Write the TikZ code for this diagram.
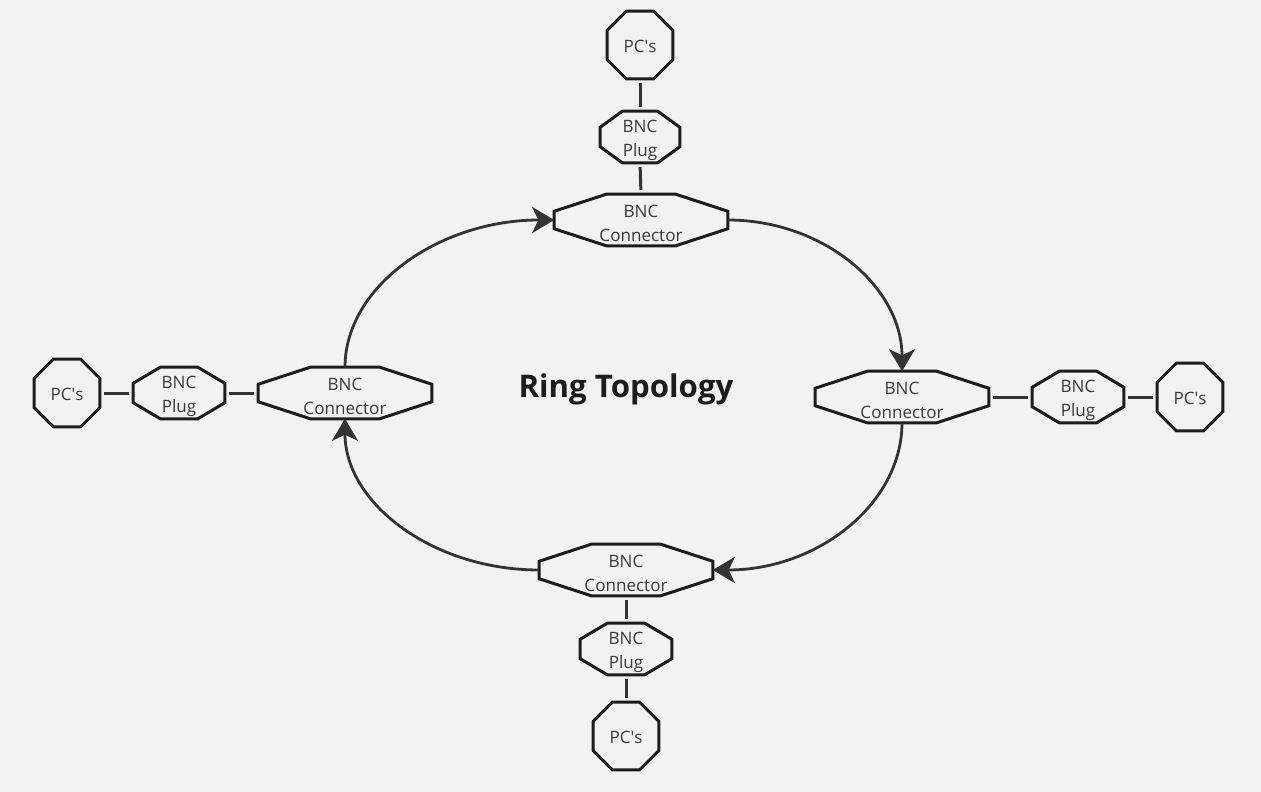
\documentclass[tikz,border=0pt]{standalone}
\usepackage{fontspec}
\setmainfont{Open Sans}
\usetikzlibrary{calc,arrows.meta}
\definecolor{bg}{HTML}{F2F2F2}
\definecolor{edge}{HTML}{1C1C1C}
\definecolor{txt}{HTML}{3A3A3A}
\definecolor{wire}{HTML}{333333}
\def\pxu{0.75pt}
\newcommand\octo[3]{%
  \draw[octline] ($(#1.north west)+(#2,0)$) -- ($(#1.north east)+(-#2,0)$)
    -- ($(#1.north east)+(0,-#3)$) -- ($(#1.south east)+(0,#3)$)
    -- ($(#1.south east)+(-#2,0)$) -- ($(#1.south west)+(#2,0)$)
    -- ($(#1.south west)+(0,#3)$) -- ($(#1.north west)+(0,-#3)$) -- cycle;}
\begin{document}
\begin{tikzpicture}[x=0.75pt,y=0.75pt,
  box/.style={inner sep=0pt},
  pcbox/.style={box, minimum width=65*\pxu, minimum height=67*\pxu},
  plugsmall/.style={box, minimum width=79*\pxu, minimum height=51*\pxu},
  plugbox/.style={box, minimum width=91*\pxu, minimum height=51*\pxu},
  connbox/.style={box, minimum width=173*\pxu, minimum height=51*\pxu},
  lbl/.style={inner sep=0pt, align=center, text=txt, font=\fontsize{12.8}{18}\selectfont},
  octline/.style={draw=edge, line width=2.25pt, line join=miter},
  link/.style={draw=wire, line width=2.25pt, shorten <=3.2pt, shorten >=3.2pt},
  ring/.style={draw=wire, line width=2.1pt, -{Stealth[length=16.5pt,width=19.5pt,inset=4.5pt]}}
]
\fill[bg] (0,0) rectangle (1261,-792);
\useasboundingbox (0,0) rectangle (1261,-792);
% shapes
\node[pcbox] (tpc) at (640,-45) {};
\node[plugsmall] (tp) at (640,-137) {};
\node[connbox] (tc) at (641,-220) {};
\node[connbox] (rc) at (902,-397) {};
\node[plugbox] (rp) at (1078,-397) {};
\node[pcbox] (rpc) at (1190,-397) {};
\node[pcbox] (lpc) at (67,-393) {};
\node[plugbox] (lp) at (179,-393) {};
\node[connbox] (lc) at (345,-393) {};
\node[connbox] (bc) at (626,-570) {};
\node[plugbox] (bp) at (626,-649) {};
\node[pcbox] (bpc) at (626,-736) {};
% labels
\node[lbl] (tpc-t) at ($(tpc)+(0,-1.5)$) {PC\textquotesingle s};
\node[lbl] (tp-t) at ($(tp)+(0,-3)$) {BNC\\Plug};
\node[lbl] (tc-t) at ($(tc)+(0,-3)$) {BNC\\Connector};
\node[lbl] (rc-t) at ($(rc)+(0,-3)$) {BNC\\Connector};
\node[lbl] (rp-t) at ($(rp)+(0,-3)$) {BNC\\Plug};
\node[lbl] (rpc-t) at ($(rpc)+(0,-1.5)$) {PC\textquotesingle s};
\node[lbl] (lpc-t) at ($(lpc)+(0,-1.5)$) {PC\textquotesingle s};
\node[lbl] (lp-t) at ($(lp)+(0,-3)$) {BNC\\Plug};
\node[lbl] (lc-t) at ($(lc)+(0,-3)$) {BNC\\Connector};
\node[lbl] (bc-t) at ($(bc)+(0,-3)$) {BNC\\Connector};
\node[lbl] (bp-t) at ($(bp)+(0,-3)$) {BNC\\Plug};
\node[lbl] (bpc-t) at ($(bpc)+(0,-1.5)$) {PC\textquotesingle s};
% title
\node[font=\bfseries\fontsize{23.4}{28}\selectfont, text=edge] (title) at (626,-389) {Ring Topology};
% octagons
\octo{tpc}{19}{19}
\octo{rpc}{19}{19}
\octo{lpc}{19}{19}
\octo{bpc}{19}{19}
\octo{tp}{22}{16}
\octo{rp}{27}{16}
\octo{lp}{27}{16}
\octo{bp}{27}{16}
\octo{tc}{52}{17}
\octo{rc}{52}{17}
\octo{lc}{52}{17}
\octo{bc}{52}{17}
% links
\draw[link] (tpc.south) -- (tp.north);
\draw[link] (tp.south) -- (tc.north);
\draw[link] (rc.east) -- (rp.west);
\draw[link] (rp.east) -- (rpc.west);
\draw[link] (lpc.east) -- (lp.west);
\draw[link] (lp.east) -- (lc.west);
\draw[link] (bc.south) -- (bp.north);
\draw[link] (bp.south) -- (bpc.north);
% ring
\draw[ring] (lc.north) .. controls +(0,81) and +(-115,0) .. (tc.west);
\draw[ring] (tc.east) .. controls +(96,0) and +(0,84) .. (rc.north);
\draw[ring] (rc.south) .. controls +(0,-81) and +(105,0) .. (bc.east);
\draw[ring] (bc.west) .. controls +(-107,0) and +(0,-84) .. (lc.south);
\end{tikzpicture}
\end{document}
